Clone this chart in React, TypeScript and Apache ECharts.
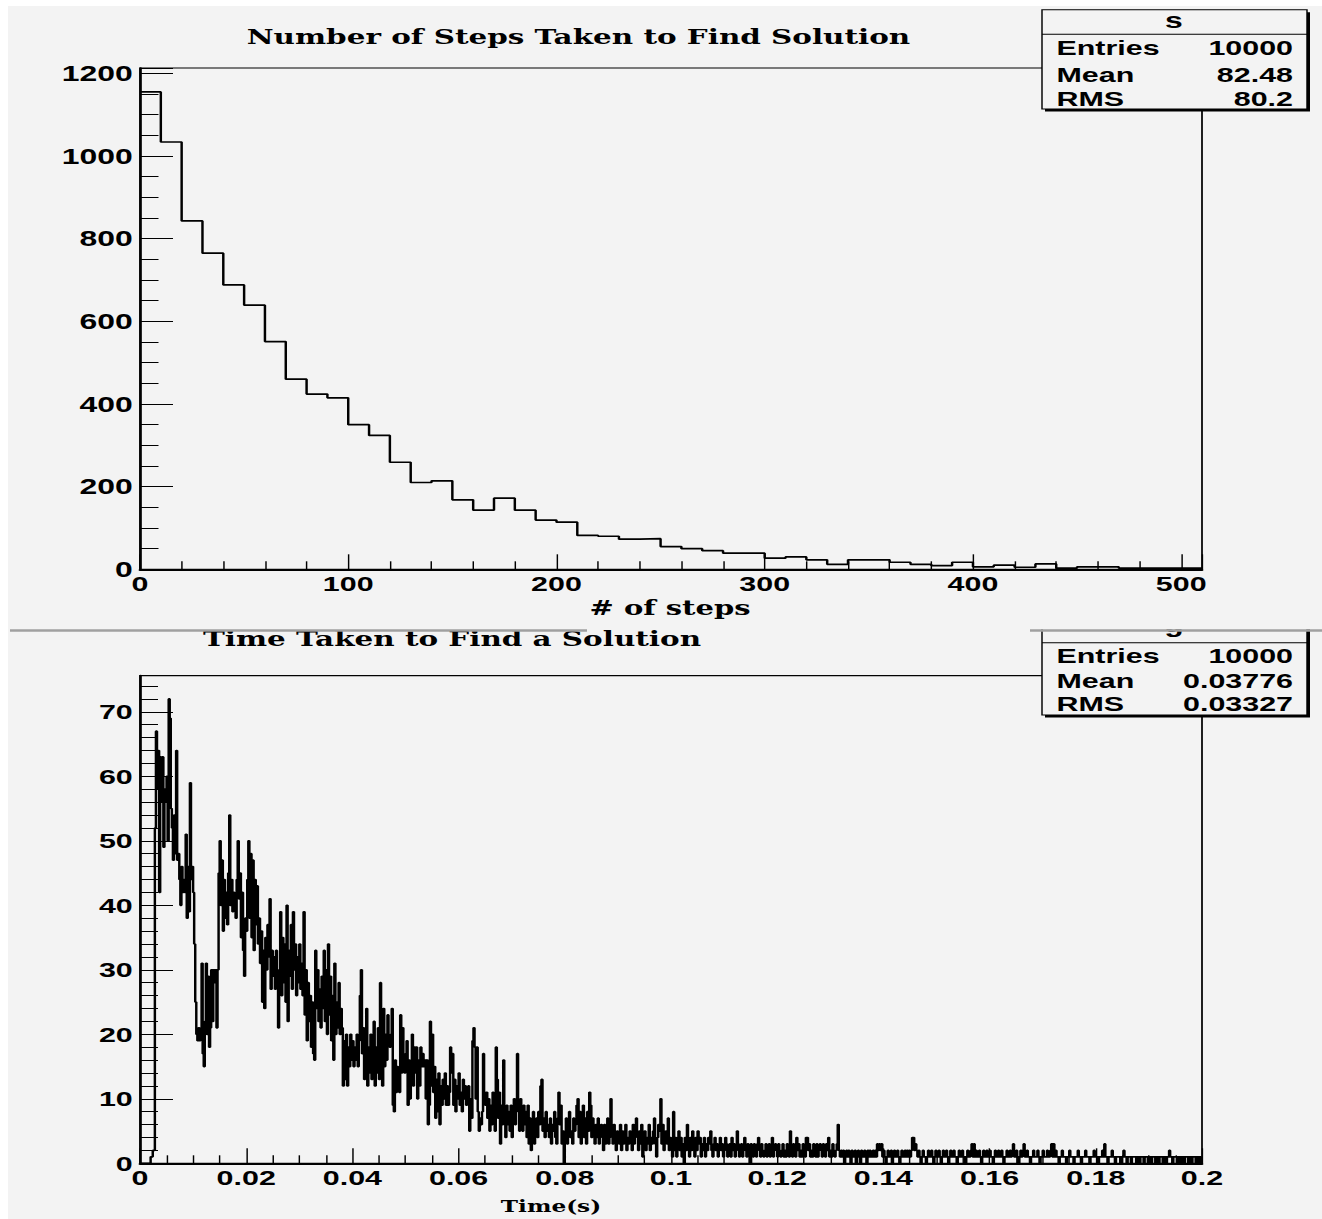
import React, { useEffect, useRef } from "react";
import * as echarts from "echarts";

// ---------- data: top histogram (# of steps, bin width 10, 0..510) ----------
const STEP_BIN = 10;
const stepCounts = [
  1155, 1034, 843, 765, 688, 639, 551, 460, 424, 415,
  350, 324, 259, 210, 214, 168, 143, 172, 143, 119,
  114, 82, 80, 73, 74, 55, 50, 45, 39, 39,
  27, 30, 23, 12, 23, 23, 17, 12, 9, 17,
  6, 10, 5, 13, 3, 6, 6, 3, 3, 3, 3,
];
const stepTicks = [0, 100, 200, 300, 400, 500];
const stepStats = { entries: "10000", mean: "82.48", rms: "80.2" };

// ---------- data: bottom histogram (time, bin width 0.0002, 0..0.2) ----------
const TIME_BIN = 0.0002;
const time000_099 = [
  0, 0, 0, 0, 0, 0, 0, 0, 0, 0,
  1, 1, 2, 2, 52, 67, 58, 64, 42, 63,
  56, 63, 49, 58, 56, 60, 50, 72, 69, 55,
  52, 47, 54, 48, 64, 47, 48, 44, 40, 46,
  42, 44, 42, 51, 38, 46, 39, 59, 44, 46,
  42, 34, 25, 20, 19, 21, 19, 20, 31, 17,
  15, 22, 31, 20, 29, 18, 21, 30, 22, 30,
  28, 30, 21, 30, 45, 50, 40, 47, 36, 44,
  38, 42, 37, 45, 54, 40, 44, 39, 42, 40,
  38, 44, 50, 41, 45, 35, 42, 33, 29, 38,
];
const time100_199 = [
  36, 44, 50, 38, 48, 35, 47, 33, 44, 37,
  43, 34, 38, 31, 36, 25, 33, 24, 35, 30,
  37, 32, 41, 27, 33, 29, 32, 27, 33, 28,
  21, 30, 39, 26, 35, 28, 34, 25, 40, 22,
  33, 29, 37, 27, 39, 30, 34, 26, 32, 28,
  34, 27, 31, 26, 39, 23, 30, 19, 28, 22,
  26, 18, 25, 17, 16, 33, 24, 30, 22, 27,
  21, 29, 24, 33, 22, 30, 20, 34, 23, 29,
  19, 26, 16, 31, 20, 25, 21, 28, 20, 24,
  21, 12, 19, 13, 20, 12, 18, 15, 20, 16,
];
const time200_299 = [
  19, 15, 18, 16, 20, 15, 19, 26, 30, 17,
  21, 13, 19, 24, 12, 18, 14, 20, 13, 17,
  22, 12, 18, 14, 21, 13, 28, 22, 12, 24,
  15, 20, 16, 23, 19, 18, 20, 24, 9, 8,
  16, 11, 15, 13, 11, 23, 14, 21, 16, 14,
  17, 19, 9, 16, 10, 15, 20, 12, 18, 14,
  18, 10, 16, 12, 18, 15, 17, 15, 16, 10,
  16, 6, 9, 22, 12, 20, 11, 15, 7, 13,
  8, 14, 6, 12, 9, 13, 10, 14, 9, 12,
  9, 11, 18, 14, 17, 9, 13, 8, 12, 10,
];
const time300_399 = [
  14, 9, 11, 8, 13, 10, 12, 9, 11, 12,
  5, 10, 7, 19, 21, 18, 10, 18, 8, 5,
  7, 6, 8, 17, 11, 9, 11, 7, 10, 5,
  9, 6, 11, 8, 5, 18, 13, 7, 11, 3,
  9, 6, 16, 8, 4, 9, 6, 8, 5, 9,
  4, 7, 10, 6, 9, 17, 8, 5, 10, 7,
  5, 9, 6, 8, 4, 9, 3, 7, 2, 6,
  8, 3, 5, 7, 4, 8, 6, 12, 13, 5,
  7, 4, 8, 5, 6, 4, 7, 3, 6, 5,
  8, 4, 3, 7, 11, 6, 9, 3, 5, 0,
];
const time400_499 = [
  4, 7, 3, 6, 8, 4, 5, 3, 7, 5,
  6, 9, 10, 4, 8, 3, 6, 9, 4, 7,
  3, 8, 5, 11, 9, 4, 7, 5, 3, 6,
  4, 7, 3, 5, 6, 4, 2, 6, 3, 5,
  7, 3, 4, 10, 5, 3, 6, 4, 2, 5,
  4, 3, 6, 2, 5, 3, 4, 6, 2, 4,
  3, 5, 4, 2, 6, 3, 5, 7, 4, 2,
  5, 3, 6, 1, 4, 5, 2, 4, 3, 6,
  2, 4, 3, 5, 7, 3, 1, 4, 6, 5,
  10, 3, 6, 2, 4, 5, 3, 7, 2, 4,
];
const time500_599 = [
  3, 1, 8, 2, 4, 1, 3, 5, 2, 4,
  1, 3, 0, 4, 2, 6, 3, 1, 4, 2,
  5, 3, 1, 4, 2, 5, 3, 4, 1, 3,
  2, 4, 1, 3, 2, 4, 3, 5, 2, 1,
  3, 4, 2, 3, 1, 2, 4, 2, 3, 1,
  2, 4, 3, 1, 2, 3, 1, 4, 2, 3,
  1, 2, 5, 3, 1, 2, 3, 1, 2, 4,
  2, 1, 3, 2, 0, 3, 2, 1, 3, 2,
  1, 3, 4, 2, 1, 3, 2, 1, 2, 3,
  1, 2, 3, 1, 2, 4, 1, 2, 3, 2,
];
const time600_699 = [
  1, 3, 2, 1, 2, 3, 1, 2, 1, 3,
  2, 1, 5, 2, 1, 3, 2, 1, 4, 2,
  3, 1, 2, 1, 3, 2, 1, 4, 4, 2,
  3, 1, 2, 1, 3, 2, 1, 3, 1, 2,
  3, 2, 1, 3, 2, 1, 3, 2, 4, 1,
  2, 1, 3, 2, 1, 2, 3, 6, 2, 1,
  2, 1, 2, 0, 1, 2, 1, 2, 1, 0,
  2, 1, 1, 2, 0, 1, 2, 1, 0, 2,
  1, 1, 2, 1, 0, 2, 1, 2, 1, 1,
  2, 1, 2, 1, 3, 2, 3, 2, 3, 1,
];
const time700_799 = [
  2, 1, 0, 1, 2, 1, 1, 2, 0, 1,
  2, 1, 1, 2, 1, 0, 1, 2, 1, 1,
  2, 1, 2, 1, 2, 1, 2, 4, 4, 2,
  3, 2, 1, 2, 1, 0, 1, 2, 1, 1,
  0, 1, 2, 1, 1, 2, 1, 0, 1, 2,
  1, 1, 2, 1, 0, 1, 2, 1, 1, 2,
  1, 0, 1, 2, 1, 1, 2, 1, 1, 0,
  1, 2, 1, 1, 2, 1, 1, 0, 1, 2,
  1, 1, 2, 3, 1, 3, 1, 2, 1, 1,
  2, 1, 0, 1, 2, 1, 1, 2, 1, 1,
];
const time800_899 = [
  2, 1, 1, 0, 1, 2, 1, 1, 2, 1,
  1, 2, 1, 0, 1, 1, 2, 1, 1, 2,
  1, 2, 3, 1, 1, 2, 1, 0, 1, 2,
  1, 2, 3, 1, 1, 2, 1, 1, 0, 1,
  1, 2, 1, 1, 1, 2, 1, 0, 1, 1,
  2, 1, 1, 1, 2, 1, 1, 2, 3, 1,
  3, 1, 2, 1, 1, 0, 1, 1, 2, 1,
  1, 1, 0, 1, 1, 2, 1, 1, 1, 0,
  1, 1, 1, 2, 1, 1, 0, 1, 1, 1,
  2, 1, 1, 1, 0, 1, 1, 1, 2, 1,
];
const time900_999 = [
  1, 1, 0, 1, 1, 1, 2, 1, 3, 1,
  1, 0, 1, 1, 1, 2, 1, 1, 0, 1,
  1, 1, 1, 0, 1, 1, 2, 1, 1, 0,
  1, 1, 1, 0, 1, 1, 1, 1, 0, 1,
  1, 0, 1, 1, 1, 0, 1, 1, 1, 0,
  1, 1, 0, 1, 1, 1, 0, 1, 1, 0,
  1, 1, 1, 0, 1, 1, 0, 1, 1, 2,
  1, 1, 0, 1, 1, 1, 1, 0, 1, 1,
  0, 1, 1, 0, 1, 1, 1, 0, 1, 1,
  0, 1, 1, 1, 0, 1, 0, 1, 1, 0,
];
const timeTicks = [0, 0.02, 0.04, 0.06, 0.08, 0.1, 0.12, 0.14, 0.16, 0.18, 0.2];
const timeStats = { entries: "10000", mean: "0.03776", rms: "0.03327" };

const timeCounts = [
  ...time000_099, ...time100_199, ...time200_299, ...time300_399, ...time400_499,
  ...time500_599, ...time600_699, ...time700_799, ...time800_899, ...time900_999,
];

// ---------- layout ----------
const W = 912;
const H = 1219;
const SX = 1322 / W; // the reference is horizontally stretched
const U = (x: number) => x / SX; // reference px -> unstretched px
const BG = "#f3f3f3";
const SANS = "'Liberation Sans', Arial, sans-serif";
const DSERIF = "'DejaVu Serif', serif";

function histData(counts: number[], bin: number) {
  const d = counts.map((c, i) => [+(i * bin).toFixed(6), c]);
  d.push([+(counts.length * bin).toFixed(6), counts[counts.length - 1]]);
  return d;
}

const labelBase = { color: "#000", fontFamily: SANS, fontWeight: "bold" as const };

function txt(text: string, x: number, y: number, size: number, family: string, align = "center", z = 50) {
  return {
    type: "text",
    z,
    silent: true,
    style: {
      text,
      x,
      y,
      fill: "#000",
      fontSize: size,
      fontWeight: "bold",
      fontFamily: family,
      align,
      textAlign: align,
      verticalAlign: "middle",
      textVerticalAlign: "middle",
    },
  };
}

function statsBox(top: number, sep: number, bottom: number, title: string, titleY: number, rows: number[], s: { entries: string; mean: string; rms: string }) {
  const x0 = U(1042);
  const x1 = U(1307);
  const els: any[] = [
    { type: "rect", z: 50, silent: true, shape: { x: x0 + U(3), y: top + 2.5, width: x1 - x0, height: bottom - top }, style: { fill: "#000" } },
    { type: "rect", z: 50, silent: true, shape: { x: x0, y: top, width: x1 - x0, height: bottom - top }, style: { fill: BG, stroke: "#000", lineWidth: 1 } },
    { type: "line", z: 50, silent: true, shape: { x1: x0, y1: sep, x2: x1, y2: sep }, style: { stroke: "#000", lineWidth: 1 } },
    txt(title, U(1174), titleY, 22, SANS),
  ];
  const labels = ["Entries", "Mean", "RMS"];
  const vals = [s.entries, s.mean, s.rms];
  labels.forEach((l, i) => {
    els.push(txt(l, U(1056.5), rows[i], 21, SANS, "left"));
    els.push(txt(vals[i], U(1293), rows[i], 21, SANS, "right"));
  });
  return els;
}

function buildOption() {
  const axisLineX = { show: true, onZero: false, lineStyle: { color: "#000", width: 2 } };
  const axisLineY = { show: true, onZero: false, lineStyle: { color: "#000", width: 1.7 } };
  return {
    animation: false,
    backgroundColor: BG,
    grid: [
      { left: U(140), right: W - U(1202), top: 68, height: 501.3, show: true, borderColor: "#000", borderWidth: 1.2, backgroundColor: "transparent" },
      { left: U(140), right: W - U(1202), top: 675.7, height: 487.6, show: true, borderColor: "#000", borderWidth: 1.2, backgroundColor: "transparent" },
    ],
    xAxis: [
      {
        type: "value", gridIndex: 0, min: 0, max: stepCounts.length * STEP_BIN, interval: 100,
        axisLine: axisLineX,
        axisTick: { show: true, inside: true, length: 15, lineStyle: { color: "#000", width: 1 } },
        minorTick: { show: true, splitNumber: 5, length: 8, lineStyle: { color: "#000", width: 1 } },
        splitLine: { show: false },
        axisLabel: { ...labelBase, fontSize: 21, margin: 4, formatter: (v: number) => (stepTicks.includes(v) ? String(v) : "") },
      },
      {
        type: "value", gridIndex: 1, min: 0, max: 0.2, interval: 0.02,
        axisLine: axisLineX,
        axisTick: { show: true, inside: true, length: 15, lineStyle: { color: "#000", width: 1 } },
        minorTick: { show: true, splitNumber: 4, length: 8, lineStyle: { color: "#000", width: 1 } },
        splitLine: { show: false },
        axisLabel: {
          ...labelBase, fontSize: 21, margin: 4,
          formatter: (v: number) => {
            const r = +v.toFixed(4);
            return timeTicks.some((t) => Math.abs(t - r) < 1e-9) ? String(r) : "";
          },
        },
      },
    ],
    yAxis: [
      {
        type: "value", gridIndex: 0, min: 0, max: 1213, interval: 200,
        axisLine: axisLineY,
        axisTick: { show: true, inside: true, length: U(33), lineStyle: { color: "#000", width: 1 } },
        minorTick: { show: true, splitNumber: 4, length: U(18.5), lineStyle: { color: "#000", width: 1 } },
        splitLine: { show: false },
        axisLabel: { ...labelBase, fontSize: 22, margin: 5, formatter: (v: number) => (v % 200 === 0 ? String(v) : "") },
      },
      {
        type: "value", gridIndex: 1, min: 0, max: 75.6, interval: 10,
        axisLine: axisLineY,
        axisTick: { show: true, inside: true, length: U(33), lineStyle: { color: "#000", width: 1 } },
        minorTick: { show: true, splitNumber: 5, length: U(18), lineStyle: { color: "#000", width: 1 } },
        splitLine: { show: false },
        axisLabel: { ...labelBase, fontSize: 21, margin: 5, formatter: (v: number) => (Math.abs(v % 10) < 1e-9 ? String(Math.round(v)) : "") },
      },
    ],
    series: [
      {
        type: "line", xAxisIndex: 0, yAxisIndex: 0, step: "end", symbol: "none", silent: true,
        data: histData(stepCounts, STEP_BIN),
        lineStyle: { color: "#000", width: 1.7 },
      },
      {
        type: "line", xAxisIndex: 1, yAxisIndex: 1, step: "end", symbol: "none", silent: true,
        data: histData(timeCounts, TIME_BIN),
        lineStyle: { color: "#000", width: 1.7 },
      },
    ],
    graphic: [
      // white page margins around the pads
      { type: "rect", silent: true, z: 80, shape: { x: 0, y: 0, width: U(8), height: H }, style: { fill: "#fff" } },
      { type: "rect", silent: true, z: 80, shape: { x: 0, y: 0, width: W, height: 6 }, style: { fill: "#fff" } },
      // titles
      txt("Number of Steps Taken to Find Solution", U(578.5), 36.3, 20.3, DSERIF),
      txt("# of steps", U(670), 608, 20, DSERIF),
      txt("Time Taken to Find a Solution", U(452), 639, 20.3, DSERIF),
      txt("Time(s)", U(551), 1206, 16, DSERIF),
      // stats boxes
      ...statsBox(9.7, 34.3, 109, "s", 20.7, [47.7, 74.4, 98.7], stepStats),
      ...statsBox(612, 642.7, 715, "g", 624, [656, 681, 703.7], timeStats),
      // top pad hides the upper part of the lower stats box
      { type: "rect", silent: true, z: 60, shape: { x: U(1030), y: 596, width: W - U(1030), height: 33.5 }, style: { fill: BG } },
      // pad separation line
      { type: "rect", silent: true, z: 70, shape: { x: U(10), y: 629.3, width: U(587) - U(10), height: 2.5 }, style: { fill: "#a0a0a0" } },
      { type: "rect", silent: true, z: 70, shape: { x: U(1030), y: 629.3, width: W - U(1030), height: 2.5 }, style: { fill: "#a0a0a0" } },
    ],
  };
}

export default function App() {
  const ref = useRef<HTMLDivElement>(null);
  useEffect(() => {
    if (!ref.current) return;
    const chart = echarts.init(ref.current, null, { renderer: "svg" });
    chart.setOption(buildOption() as any);
    return () => chart.dispose();
  }, []);
  return (
    <div
      ref={ref}
      style={{
        position: "absolute",
        left: 0,
        top: 0,
        width: W,
        height: H,
        transform: `scaleX(${SX})`,
        transformOrigin: "0 0",
      }}
    />
  );
}
